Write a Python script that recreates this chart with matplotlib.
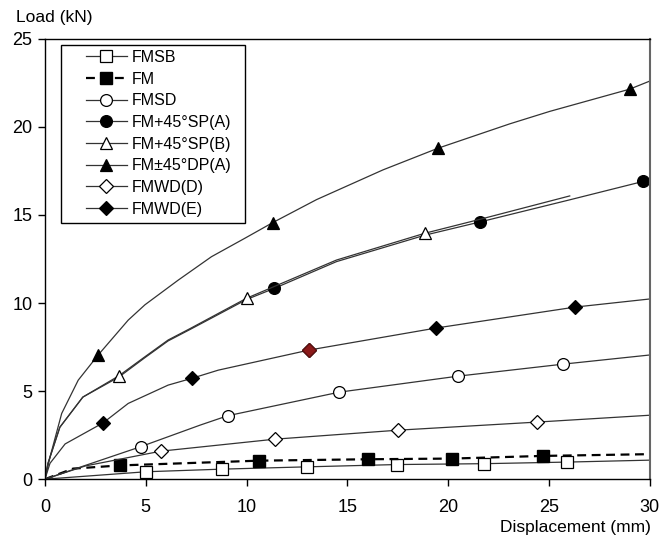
import numpy as np
import matplotlib.pyplot as plt
from matplotlib.patches import Rectangle

plt.rcParams['font.family'] = ['Liberation Sans', 'DejaVu Sans']

# curves: (x, y), markers at given indices
fmsb_x = [0, 5.0, 8.8, 13.0, 17.45, 21.8, 25.9, 30]
fmsb_y = [0, 0.42, 0.57, 0.7, 0.83, 0.88, 0.97, 1.08]
fmsb_m = [1, 2, 3, 4, 5, 6]

fm_x = [0, 1.4, 3.72, 10.6, 16.0, 20.2, 24.7, 30]
fm_y = [0, 0.6, 0.78, 1.05, 1.13, 1.17, 1.32, 1.42]
fm_m = [2, 3, 4, 5, 6]

fmsd_x = [0, 2.0, 4.74, 7.7, 9.06, 14.6, 20.5, 25.7, 30]
fmsd_y = [0, 0.78, 1.84, 3.07, 3.6, 4.94, 5.85, 6.53, 7.05]
fmsd_m = [2, 4, 5, 6, 7]

spa_x = [0, 0.15, 0.74, 1.88, 3.67, 4.96, 6.11, 7.2, 10.0, 11.37, 14.46, 18.84, 21.57, 26.0, 29.66, 30]
spa_y = [0, 0.9, 2.95, 4.66, 5.8, 6.9, 7.85, 8.5, 10.2, 10.83, 12.35, 13.85, 14.6, 15.85, 16.9, 17.05]
spa_m = [9, 12, 14]

spb_x = [0, 0.15, 0.74, 1.88, 3.67, 4.96, 6.11, 7.2, 10.0, 14.46, 18.84, 21.57, 26.03]
spb_y = [0, 0.9, 2.95, 4.66, 5.87, 6.95, 7.9, 8.55, 10.27, 12.44, 13.96, 14.75, 16.08]
spb_m = [4, 8, 10]

dpa_x = [0, 0.25, 0.83, 1.65, 2.64, 4.13, 4.96, 6.61, 8.26, 9.92, 11.29, 13.47, 16.77, 19.5, 23.05, 25.04, 29.0, 30]
dpa_y = [0, 1.25, 3.73, 5.62, 7.05, 9.03, 9.9, 11.3, 12.63, 13.68, 14.56, 15.87, 17.56, 18.79, 20.17, 20.88, 22.14, 22.6]
dpa_m = [4, 10, 13, 16]

wdd_x = [0, 2.0, 5.75, 11.4, 17.5, 24.4, 30]
wdd_y = [0, 0.75, 1.59, 2.27, 2.78, 3.24, 3.63]
wdd_m = [2, 3, 4, 5]

wde_x = [0, 0.25, 1.0, 2.89, 4.13, 6.11, 7.27, 8.6, 13.1, 19.4, 26.3, 30]
wde_y = [0, 0.9, 2.0, 3.2, 4.3, 5.34, 5.72, 6.19, 7.33, 8.58, 9.77, 10.23]
wde_m = [3, 6, 8, 9, 10]
wde_red = 8

fig = plt.figure(figsize=(6.61, 5.39), dpi=100)
ax = fig.add_axes([0.068, 0.111, 0.915, 0.817])

lc = '#333333'
lw = 0.9

def curve(x, y, m, marker, fc, label, ls='-', ms=8.5):
    ax.plot(x, y, ls=ls, color=lc, lw=lw, marker=marker, markevery=m,
            markersize=ms, markerfacecolor=fc, markeredgecolor='black',
            markeredgewidth=0.9, label=label)

curve(fmsb_x, fmsb_y, fmsb_m, 's', 'white', 'FMSB')
ax.plot(fm_x, fm_y, ls=(0, (4, 2.5)), color='black', lw=1.6, marker='s',
        markevery=fm_m, markersize=8.5, markerfacecolor='black',
        markeredgecolor='black', label='FM')
curve(fmsd_x, fmsd_y, fmsd_m, 'o', 'white', 'FMSD')
curve(spa_x, spa_y, spa_m, 'o', 'black', 'FM+45°SP(A)')
curve(spb_x, spb_y, spb_m, '^', 'white', 'FM+45°SP(B)')
curve(dpa_x, dpa_y, dpa_m, '^', 'black', 'FM±45°DP(A)')
curve(wdd_x, wdd_y, wdd_m, 'D', 'white', 'FMWD(D)', ms=7)
curve(wde_x, wde_y, wde_m, 'D', 'black', 'FMWD(E)', ms=7)
# one marker of FMWD(E) is dark red in the source
ax.plot([wde_x[wde_red]], [wde_y[wde_red]], ls='none', marker='D', markersize=7,
        markerfacecolor='#8b1a1a', markeredgecolor='#5a0f0f')

ax.set_xlim(0, 30)
ax.set_ylim(0, 25)
ax.set_xticks(np.arange(0, 31, 5))
ax.set_yticks(np.arange(0, 26, 5))
ax.tick_params(direction='out', length=5, width=1, labelsize=13, pad=4)
ax.tick_params(axis='x', pad=9)
for s in ['left', 'bottom', 'top']:
    ax.spines[s].set_linewidth(1.0)
ax.spines['right'].set_color('#666666')
ax.spines['right'].set_linewidth(1.5)

fig.text(0.024, 0.968, 'Load (kN)', fontsize=12.5, ha='left', va='center')
fig.text(0.985, 0.022, 'Displacement (mm)', fontsize=12.5, ha='right', va='center')

leg = ax.legend(loc='upper left', bbox_to_anchor=(0.0678, 0.975), fontsize=11.5,
                frameon=False, handlelength=2.55, handletextpad=0.3,
                labelspacing=0.42, borderpad=0, borderaxespad=0)
ax.add_patch(Rectangle((0.0264, 0.5818), 0.3042, 0.4046, transform=ax.transAxes,
                       fill=False, edgecolor='black', lw=1.0, zorder=5))

fig.savefig('out.png', dpi=100)
